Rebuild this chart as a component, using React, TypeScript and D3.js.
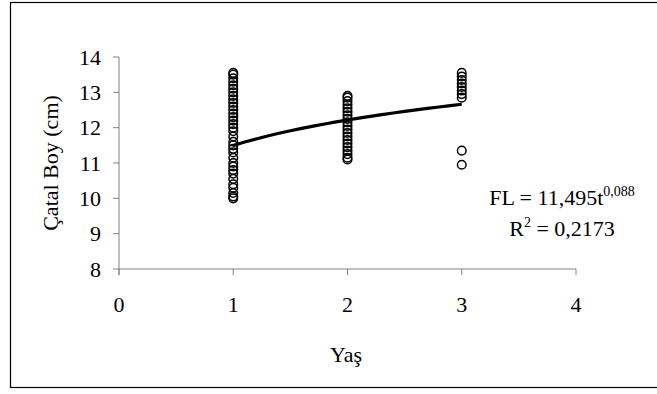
import React from "react";
import * as d3 from "d3";

const ages = [1, 2, 3];
const age1Lengths = [10.0, 10.05, 10.15, 10.3, 10.4, 10.55, 10.7, 10.8, 10.9, 11.0, 11.15, 11.3, 11.4, 11.5, 11.6, 11.75, 11.9, 12.0, 12.1, 12.2, 12.3, 12.4, 12.5, 12.6, 12.7, 12.8, 12.9, 13.0, 13.1, 13.2, 13.3, 13.4, 13.5, 13.55];
const age2Lengths = [11.1, 11.15, 11.25, 11.35, 11.45, 11.55, 11.65, 11.75, 11.85, 11.95, 12.05, 12.15, 12.25, 12.35, 12.45, 12.55, 12.65, 12.75, 12.85, 12.9];
const age3Lengths = [10.95, 11.35, 12.85, 12.95, 13.05, 13.15, 13.25, 13.35, 13.45, 13.55];
const xTicks = [0, 1, 2, 3, 4];
const yTicks = [8, 9, 10, 11, 12, 13, 14];
const fitA = 11.495;
const fitB = 0.088;
const fitSamples = [1, 1.1, 1.2, 1.3, 1.4, 1.5, 1.6, 1.7, 1.8, 1.9, 2, 2.1, 2.2, 2.3, 2.4, 2.5, 2.6, 2.7, 2.8, 2.9, 3];

const FONT = "'Liberation Serif', 'Times New Roman', serif";

export default function App() {
  const x = d3.scaleLinear().domain([0, 4]).range([119, 576]);
  const y = d3.scaleLinear().domain([8, 14]).range([269, 57]);
  const groups = [age1Lengths, age2Lengths, age3Lengths];
  const points = groups.flatMap((g, i) => g.map((v) => ({ a: ages[i], v })));
  const line = d3
    .line<number>()
    .x((t) => x(t))
    .y((t) => y(fitA * Math.pow(t, fitB)));
  const axisColor = "#808080";
  return (
    <svg
      width={657}
      height={394}
      style={{ position: "absolute", left: 0, top: 0, background: "#fff" }}
      fontFamily={FONT}
    >
      <rect x={0} y={0} width={657} height={394} fill="#fff" />
      <rect x={10.5} y={2.5} width={660} height={385} fill="none" stroke="#000" strokeWidth={1.2} />
      {/* axes */}
      <line x1={x(0)} x2={x(4)} y1={y(8)} y2={y(8)} stroke={axisColor} strokeWidth={1} />
      <line x1={x(0)} x2={x(0)} y1={y(14)} y2={y(8) + 6} stroke={axisColor} strokeWidth={1} />
      {xTicks.map((t) => (
        <g key={"xt" + t}>
          <line x1={x(t)} x2={x(t)} y1={y(8)} y2={y(8) + 6} stroke={axisColor} />
          <text x={x(t)} y={312} fontSize={22} textAnchor="middle" fill="#000">
            {t}
          </text>
        </g>
      ))}
      {yTicks.map((t) => (
        <g key={"yt" + t}>
          <line x1={x(0) - 6} x2={x(0)} y1={y(t)} y2={y(t)} stroke={axisColor} />
          <text x={101} y={y(t) + 7.5} fontSize={22} textAnchor="end" fill="#000">
            {t}
          </text>
        </g>
      ))}
      <text x={346} y={362} fontSize={22} textAnchor="middle" fill="#000">
        Yaş
      </text>
      <text
        transform={`translate(58,163) rotate(-90)`}
        fontSize={22}
        textAnchor="middle"
        fill="#000"
      >
        Çatal Boy (cm)
      </text>
      {/* points */}
      {points.map((p, i) => (
        <circle
          key={i}
          cx={x(p.a)}
          cy={y(p.v)}
          r={4.3}
          fill="none"
          stroke="#000"
          strokeWidth={1.5}
        />
      ))}
      {/* fit curve */}
      <path d={line(fitSamples) || ""} fill="none" stroke="#000" strokeWidth={3.2} />
      {/* equation */}
      <text x={562} y={205} fontSize={22} textAnchor="middle" fill="#000">
        FL = 11,495t
        <tspan fontSize={14} dy={-9}>0,088</tspan>
      </text>
      <text x={562} y={236} fontSize={22} textAnchor="middle" fill="#000">
        R
        <tspan fontSize={14} dy={-9}>2</tspan>
        <tspan dy={9}> = 0,2173</tspan>
      </text>
    </svg>
  );
}
